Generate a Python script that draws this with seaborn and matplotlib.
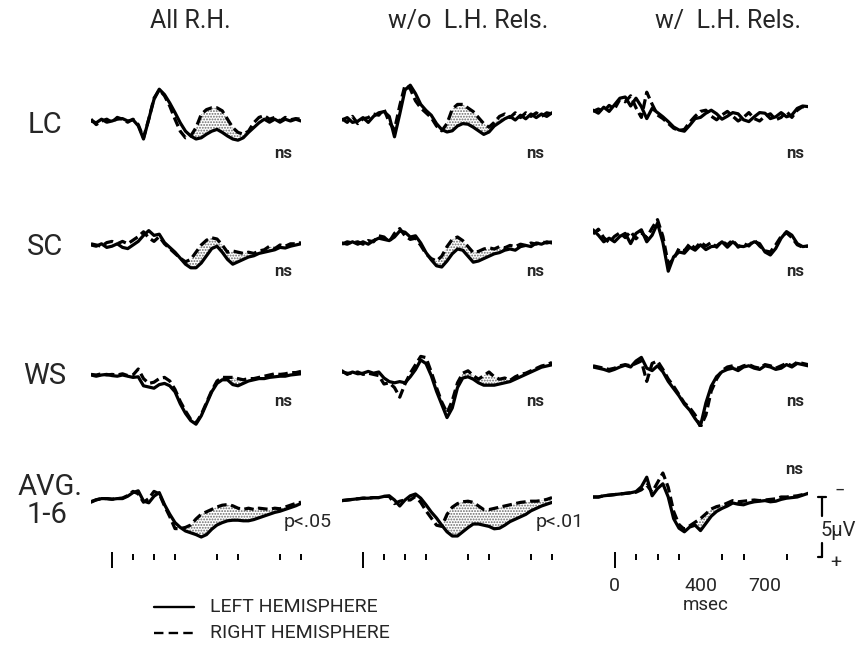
import numpy as np
import pandas as pd
import matplotlib
matplotlib.use("Agg")
import matplotlib.pyplot as plt
from matplotlib.lines import Line2D
import seaborn as sns

# ---------------- data (microvolts, negative plotted upward) ----------------
time_ms = list(range(-100, 901, 25))  # 41 samples

columns = ["All R.H.", "w/o  L.H. Rels.", "w/  L.H. Rels."]
rows = ["LC", "SC", "WS", "AVG.\n1-6"]

lc_all_left = [0, 0.15, -0.15, 0.1,  0, -0.15, -0.2, 0,  -0.1, 0.4, 1.5, -0.15,
               -1.8, -2.65, -2.2, -1.5,  -0.7, 0.15, 0.85, 1.25,  1.5, 1.4, 1.1, 0.85,
               0.7, 0.95, 1.25, 1.5,  1.6, 1.4, 0.95, 0.55,  0.15, -0.15, 0.1, -0.15,
               0.1, -0.15, 0, -0.15,  0]
lc_all_right = [-0.15, 0.3, 0.0, -0.15,  0.1, -0.3, -0.15, 0.1,  -0.15, 0.3, 1.4, -0.15,
                -1.9, -2.6, -2.1, -1.25,  -0.15, 0.85, 1.4, 1.25,  0.55, -0.55, -0.95, -1.1,
                -1.1, -0.85, -0.15, 0.55,  0.95, 1.1, 0.85, 0.15,  -0.3, -0.45, -0.15, -0.3,
                0.0, -0.3, -0.1, -0.2,  -0.15]

lc_wo_left = [0, -0.2, 0.2, 0.1,  -0.2, 0.2, -0.3, -0.6,  -0.7, -0.3, 1.4, -0.5,
              -2.5, -2.9, -2.2, -1.3,  -0.8, -0.4, 0.3, 0.8,  1.0, 0.9, 0.5, 0.3,
              0.35, 0.6, 0.9, 1.2,  1.0, 0.5, 0.2, -0.1,  -0.3, 0.0, -0.4, -0.1,
              -0.5, -0.2, -0.5, -0.3,  -0.6]
lc_wo_right = [-0.1, 0.2, -0.3, 0.3,  -0.1, -0.2, -0.5, -0.4,  -0.9, 0.2, 0.8, -1.2,
               -2.9, -2.6, -1.6, -1.0,  -0.6, -0.2, 0.5, 0.9,  0.3, -0.9, -1.3, -1.3,
               -1.0, -0.7, -0.2, 0.3,  0.6, 0.2, -0.3, -0.5,  -0.2, -0.6, -0.2, -0.6,
               -0.3, -0.6, -0.3, -0.6,  -0.5]

lc_w_left = [-0.4, -0.15, -0.65, -0.3,  -0.85, -1.4, -1.5, -0.75,  -1.4, -0.7, 0.3, -0.55,
             -0.2, 0.15, 0.55, 1.0,  1.25, 1.35, 0.85, 0.3,  0.2, -0.15, -0.4, -0.1,
             0.35, 0.1, -0.2, -0.1,  0.4, 0.55, 0.15, -0.2,  -0.15, 0.3, 0.15, -0.2,
             0.15, 0.0, -0.55, -0.75,  -0.7]
lc_w_right = [-0.3, -0.5, -0.3, -0.8,  -0.5, -1.3, -1.1, -1.6,  -0.6, 0.2, -1.9, -0.9,
              0.0, 0.3, 0.7, 1.1,  1.3, 1.2, 0.6, 0.1,  -0.3, -0.4, 0.1, 0.4,
              0.0, -0.3, 0.1, 0.5,  0.2, -0.2, 0.3, 0.5,  0.1, -0.1, 0.4, 0.2,
              -0.3, 0.2, -0.4, -0.7,  -0.6]

sc_all_left = [0, 0.1, -0.1, 0.2,  0.1, -0.1, 0.2, 0.3,  0.0, -0.3, -0.8, -1.2,
               -0.8, -0.9, -0.2, 0.2,  0.6, 1.1, 1.6, 1.9,  1.9, 1.5, 0.9, 0.3,
               0.1, 0.6, 1.2, 1.6,  1.4, 1.2, 1.0, 0.9,  0.7, 0.6, 0.5, 0.4,
               0.2, 0.25, 0.1, 0.0,  -0.1]
sc_all_right = [-0.1, 0.0, 0.1, -0.2,  -0.3, -0.1, -0.3, -0.1,  -0.4, -0.7, -1.1, -0.6,
                -0.3, -0.7, -0.1, 0.3,  0.7, 1.1, 1.4, 1.2,  0.6, 0.0, -0.4, -0.6,
                -0.5, 0.0, 0.6, 0.5,  0.6, 0.7, 0.6, 0.7,  0.5, 0.4, 0.1, 0.3,
                0.0, 0.1, -0.1, -0.1,  -0.2]

sc_wo_left = [0, 0.1, -0.1, 0.1,  -0.1, 0.1, -0.2, -0.4,  -0.3, -0.2, -0.5, -1.0,
              -0.9, -0.5, -0.6, 0.0,  0.8, 1.4, 1.9, 2.0,  1.5, 0.9, 0.5, 0.6,
              1.1, 1.6, 1.5, 1.3,  1.1, 0.9, 0.8, 0.6,  0.5, 0.6, 0.3, 0.2,
              0.3, 0.0, 0.1, -0.1,  0.0]
sc_wo_right = [0.1, -0.1, 0.0, -0.1,  0.1, -0.2, -0.1, -0.6,  -0.5, -0.1, -0.8, -1.2,
               -0.6, -0.3, -0.4, 0.2,  0.9, 1.3, 1.5, 1.1,  0.3, -0.3, -0.5, -0.2,
               0.3, 0.8, 0.7, 0.5,  0.4, 0.5, 0.3, 0.4,  0.2, 0.3, 0.1, 0.2,
               0.0, 0.1, -0.1, 0.0,  -0.1]

sc_w_left = [-0.85, -0.4, 0.15, -0.15,  0.15, -0.3, -0.55, 0.3,  -0.55, -0.85, 0.15, -0.4,
             -1.4, 0.2, 2.6, 1.4,  1.0, 1.1, 0.6, 0.85,  0.4, 0.8, 0.55, 0.5,
             0.15, 0.6, 0.15, 0.5,  0.55, 0.4, 0.15, 0.3,  1.0, 1.25, 0.7, -0.15,
             -0.7, -0.4, 0.3, 0.55,  0.5]
sc_w_right = [-0.5, -0.9, -0.2, 0.2,  -0.3, -0.6, -0.2, -0.7,  -0.1, -0.6, -0.2, -1.0,
              -1.7, -0.3, 2.0, 1.6,  0.7, 0.9, 0.3, 0.7,  0.2, 0.5, 0.2, 0.6,
              0.1, 0.4, 0.0, 0.6,  0.3, 0.5, 0.0, 0.5,  0.9, 1.0, 0.4, -0.3,
              -0.6, -0.2, 0.4, 0.6,  0.5]

ws_all_left = [0, 0.1, 0, -0.05,  0.05, 0.1, 0.0, 0.1,  0.2, 0.15, 0.9, 1.0,
               1.1, 0.8, 0.7, 0.9,  1.4, 2.4, 3.2, 3.8,  4.1, 3.4, 2.4, 1.4,
               0.7, 0.4, 0.4, 0.8,  0.9, 0.7, 0.5, 0.4,  0.3, 0.3, 0.2, 0.15,
               0.1, 0.1, 0.0, -0.05,  -0.1]
ws_all_right = [-0.05, 0.0, -0.1, 0.0,  -0.05, 0.0, -0.1, 0.05,  0.0, -0.5, 0.3, 0.7,
                0.6, 0.3, 0.2, 0.5,  1.2, 2.2, 3.0, 3.7,  4.0, 3.3, 2.3, 1.3,
                0.5, 0.2, 0.2, 0.2,  0.3, 0.4, 0.3, 0.3,  0.2, 0.1, 0.0, -0.1,
                -0.05, -0.1, -0.2, -0.2,  -0.3]

ws_wo_left = [-0.1, 0.2, 0.0, 0.15,  0.1, -0.05, 0.1, 0.0,  0.5, 0.8, 0.9, 0.8,
              0.9, 0.4, -0.2, -1.0,  -0.7, 0.3, 1.6, 2.7,  3.8, 3.0, 1.3, 0.5,
              0.4, 0.6, 0.9, 1.1,  1.1, 1.1, 1.0, 0.9,  0.8, 0.6, 0.4, 0.2,
              0.0, -0.2, -0.4, -0.5,  -0.6]
ws_wo_right = [0.0, 0.1, 0.1, 0.0,  0.2, 0.1, 0.2, 0.3,  1.0, 0.9, 1.3, 2.1,
               1.0, 0.1, -0.6, -1.3,  -1.2, 0.0, 1.3, 2.5,  3.4, 2.4, 0.9, 0.1,
               -0.1, 0.3, 0.6, 0.3,  0.0, 0.4, 0.6, 0.5,  0.7, 0.4, 0.2, 0.1,
               -0.1, -0.3, -0.5, -0.6,  -0.8]

ws_w_left = [0.0, 0.1, 0.2, 0.35,  0.2, 0.0, -0.15, 0.0,  -0.5, -0.8, 0.1, 0.3,
             -0.1, 0.4, 1.2, 1.8,  2.4, 3.1, 3.6, 4.3,  4.9, 3.0, 1.6, 0.8,
             0.4, 0.2, 0.1, 0.3,  0.0, -0.1, 0.1, 0.2,  -0.1, 0.0, 0.2, 0.1,
             -0.2, 0.0, -0.3, -0.2,  -0.1]
ws_w_right = [-0.1, 0.0, 0.1, 0.2,  0.1, -0.1, -0.2, -0.1,  -0.3, -0.5, 1.2, -0.3,
              -0.5, 0.2, 1.0, 1.6,  2.3, 3.0, 3.4, 4.0,  5.0, 4.0, 2.0, 1.0,
              0.3, 0.0, -0.1, 0.1,  -0.1, -0.2, 0.0, 0.1,  -0.2, -0.1, 0.1, -0.1,
              -0.3, -0.1, -0.4, -0.3,  -0.2]

avg_all_left = [0.1, -0.1, -0.2, -0.2,  -0.15, -0.2, -0.2, -0.4,  -0.7, -0.85, 0.0, 0.15,
                -0.4, -0.7, 0.3, 1.1,  1.8, 2.2, 2.5, 2.65,  2.8, 3.0, 2.8, 2.35,
                2.0, 1.8, 1.65, 1.6,  1.6, 1.65, 1.65, 1.55,  1.4, 1.25, 1.1, 0.95,
                0.85, 0.7, 0.55, 0.4,  0.2]
avg_all_right = [0.05, -0.1, -0.2, -0.2,  -0.15, -0.2, -0.25, -0.45,  -0.8, -0.6, 0.1, -0.2,
                 -0.8, -0.6, 0.4, 1.3,  2.3, 2.3, 2.2, 2.0,  1.5, 1.1, 0.9, 0.7,
                 0.5, 0.35, 0.3, 0.4,  0.6, 0.7, 0.6, 0.7,  0.6, 0.65, 0.7, 0.6,
                 0.65, 0.5, 0.35, 0.2,  0.1]

avg_wo_left = [0.05, 0.0, -0.05, -0.1,  -0.15, -0.15, -0.2, -0.2,  -0.3, -0.35, 0.0, 0.5,
               0.0, -0.35, -0.5, -0.15,  0.4, 1.0, 1.5, 2.1,  2.65, 3.0, 3.0, 2.65,
               2.3, 2.0, 2.0, 2.1,  2.2, 2.4, 2.35, 2.1,  1.8, 1.6, 1.4, 1.2,
               0.9, 0.7, 0.5, 0.35,  0.2]
avg_wo_right = [0.05, 0.0, -0.05, -0.1,  -0.15, -0.15, -0.2, -0.2,  -0.3, -0.3, 0.3, 0.1,
                0.0, 0.0, -0.3, 0.2,  0.9, 1.5, 2.1, 2.2,  1.2, 0.6, 0.3, 0.15,
                0.1, 0.2, 0.5, 0.8,  0.8, 0.7, 0.6, 0.5,  0.4, 0.3, 0.2, 0.15,
                0.1, 0.1, 0.05, -0.05,  -0.2]

avg_w_left = [0.0, 0.0, -0.1, -0.15,  -0.2, -0.25, -0.3, -0.35,  -0.45, -0.85, -1.65, -0.1,
              -0.7, -1.1, 0.0, 1.8,  2.6, 2.9, 2.5, 2.35,  2.8, 2.2, 1.6, 1.2,
              0.95, 0.75, 0.5, 0.6,  0.65, 0.5, 0.4, 0.35,  0.3, 0.4, 0.35, 0.2,
              0.1, 0.05, 0.0, -0.15,  -0.3]
avg_w_right = [0.0, 0.0, -0.1, -0.15,  -0.2, -0.25, -0.3, -0.35,  -0.4, -0.6, -1.0, -0.4,
               -1.2, -2.0, -0.8, 1.2,  2.3, 2.7, 2.4, 2.1,  1.8, 1.4, 1.0, 0.8,
               0.7, 0.5, 0.3, 0.4,  0.35, 0.3, 0.25, 0.3,  0.25, 0.2, 0.15, 0.0,
               0.0, -0.05, -0.1, -0.2,  -0.3]

left_series = [[lc_all_left, lc_wo_left, lc_w_left],
               [sc_all_left, sc_wo_left, sc_w_left],
               [ws_all_left, ws_wo_left, ws_w_left],
               [avg_all_left, avg_wo_left, avg_w_left]]
right_series = [[lc_all_right, lc_wo_right, lc_w_right],
                [sc_all_right, sc_wo_right, sc_w_right],
                [ws_all_right, ws_wo_right, ws_w_right],
                [avg_all_right, avg_wo_right, avg_w_right]]

# shaded (stippled) difference windows, ms
shade_windows = [[(375, 650), (400, 650), None],
                 [(375, 750), (325, 650), None],
                 [(525, 625), (425, 700), (525, 625)],
                 [(375, 900), (375, 900), (400, 575)]]

stats = [["ns", "ns", "ns"],
         ["ns", "ns", "ns"],
         ["ns", "ns", "ns"],
         ["p<.05", "p<.01", "ns"]]

tick_times = [0, 100, 200, 300, 500, 600, 800, 900]
tick_labels = {0: "0", 400: "400", 700: "700"}

# ---------------- layout ----------------
W, H = 859, 648
fig = plt.figure(figsize=(W / 100, H / 100), dpi=100)
sns.set_style("white")
plt.rcParams["font.family"] = ["Roboto", "DejaVu Sans"]
plt.rcParams["hatch.linewidth"] = 0.9

col_left = [91, 342, 593]
col_width = [210, 210, 215]
baselines = [[121, 120, 115], [245, 243, 240], [375, 372, 367], [501, 500, 497]]
PXUV = 12.0  # pixels per microvolt
YR = 5.0


def fx(x):
    return x / W


def fy(y):
    return 1 - y / H


axes = {}
for r in range(4):
    for c in range(3):
        b = baselines[r][c]
        ax = fig.add_axes([fx(col_left[c]), fy(b + YR * PXUV), col_width[c] / W, 2 * YR * PXUV / H])
        ax.set_xlim(-100, 900)
        ax.set_ylim(YR, -YR)
        ax.axis("off")
        ax.patch.set_alpha(0)
        lh = np.array(left_series[r][c], dtype=float)
        rh = np.array(right_series[r][c], dtype=float)
        t = np.array(time_ms, dtype=float)
        win = shade_windows[r][c]
        if win is not None:
            m = (t >= win[0]) & (t <= win[1])
            ax.fill_between(t, lh, rh, where=m, interpolate=True, facecolor="white",
                            edgecolor="#6a6a6a", hatch="......", linewidth=0, zorder=1)
        df = pd.DataFrame({"time": np.concatenate([t, t]),
                           "uv": np.concatenate([lh, rh]),
                           "hemi": ["Left"] * len(t) + ["Right"] * len(t)})
        sns.lineplot(data=df, x="time", y="uv", style="hemi",
                     dashes={"Left": "", "Right": (3.0, 1.4)}, color="black",
                     linewidth=2.3, legend=False, ax=ax, estimator=None, sort=False,
                     zorder=3)
        ax.set_xlim(-100, 900)
        ax.set_ylim(YR, -YR)
        ax.axis("off")
        axes[(r, c)] = ax

# column titles
title_x = [190, 468, 728]
for c, name in enumerate(columns):
    fig.text(fx(title_x[c]), fy(21), name, ha="center", va="center", fontsize=18)

# row labels
RL = 21
fig.text(fx(45), fy(125), "LC", ha="center", va="center", fontsize=RL)
fig.text(fx(45), fy(247), "SC", ha="center", va="center", fontsize=RL)
fig.text(fx(45), fy(376), "WS", ha="center", va="center", fontsize=RL)
fig.text(fx(50), fy(487), "AVG.", ha="center", va="center", fontsize=RL)
fig.text(fx(47), fy(515), "1-6", ha="center", va="center", fontsize=RL)

# stats labels
ns_x = [283, 535, 795]
ns_y = [153, 271, 401]
for r in range(3):
    for c in range(3):
        fig.text(fx(ns_x[c]), fy(ns_y[r]), stats[r][c], ha="center", va="center",
                 fontsize=12, fontweight="bold")
fig.text(fx(308), fy(522), stats[3][0], ha="center", va="center", fontsize=14)
fig.text(fx(560), fy(522), stats[3][1], ha="center", va="center", fontsize=14)
fig.text(fx(794), fy(469), stats[3][2], ha="center", va="center", fontsize=12,
         fontweight="bold")

# time ticks under each column (drawn in the AVG-row axes)
for c in range(3):
    ax = axes[(3, c)]
    b = baselines[3][c]
    tt = tick_times if c < 2 else tick_times[:-1]
    for tm in tt:
        if tm == 0:
            y0, y1 = 552, 568
        else:
            y0, y1 = 554, 560
        ax.plot([tm, tm], [(y0 - b) / PXUV, (y1 - b) / PXUV], color="black", lw=1.4,
                clip_on=False, solid_capstyle="butt")

# tick labels & msec under column 3
ax3 = axes[(3, 2)]
for tm, lab in tick_labels.items():
    xpix = col_left[2] + (tm + 100) * col_width[2] / 1000
    fig.text(fx(xpix), fy(586), lab, ha="center", va="center", fontsize=14)
fig.text(fx(706), fy(605), "msec", ha="center", va="center", fontsize=13.5)

# calibration bar (5 uV, negative up)
xb = 822
bar_t = (xb - col_left[2]) * 1000 / col_width[2] - 100
ax3.plot([bar_t, bar_t], [0, 1.6], color="black", lw=1.6, clip_on=False)
ax3.plot([bar_t, bar_t], [3.8, 5.0], color="black", lw=1.6, clip_on=False)
ax3.plot([bar_t - 18, bar_t + 18], [0, 0], color="black", lw=1.6, clip_on=False)
ax3.plot([bar_t - 18, bar_t], [5.0, 5.0], color="black", lw=1.6, clip_on=False)
fig.text(fx(838), fy(530), "5μV", ha="center", va="center", fontsize=14.5)
fig.text(fx(840), fy(491), "−", ha="center", va="center", fontsize=13)
fig.text(fx(836), fy(563), "+", ha="center", va="center", fontsize=14)

# legend
fig.add_artist(Line2D([fx(154), fx(194)], [fy(607), fy(607)], color="black", lw=1.7))
fig.add_artist(Line2D([fx(154), fx(194)], [fy(633), fy(633)], color="black", lw=1.7,
                      dashes=(4, 2.2)))
fig.text(fx(210), fy(607), "LEFT HEMISPHERE", ha="left", va="center", fontsize=14)
fig.text(fx(210), fy(633), "RIGHT HEMISPHERE", ha="left", va="center", fontsize=14)

fig.savefig("out.png", dpi=100, facecolor="white")
